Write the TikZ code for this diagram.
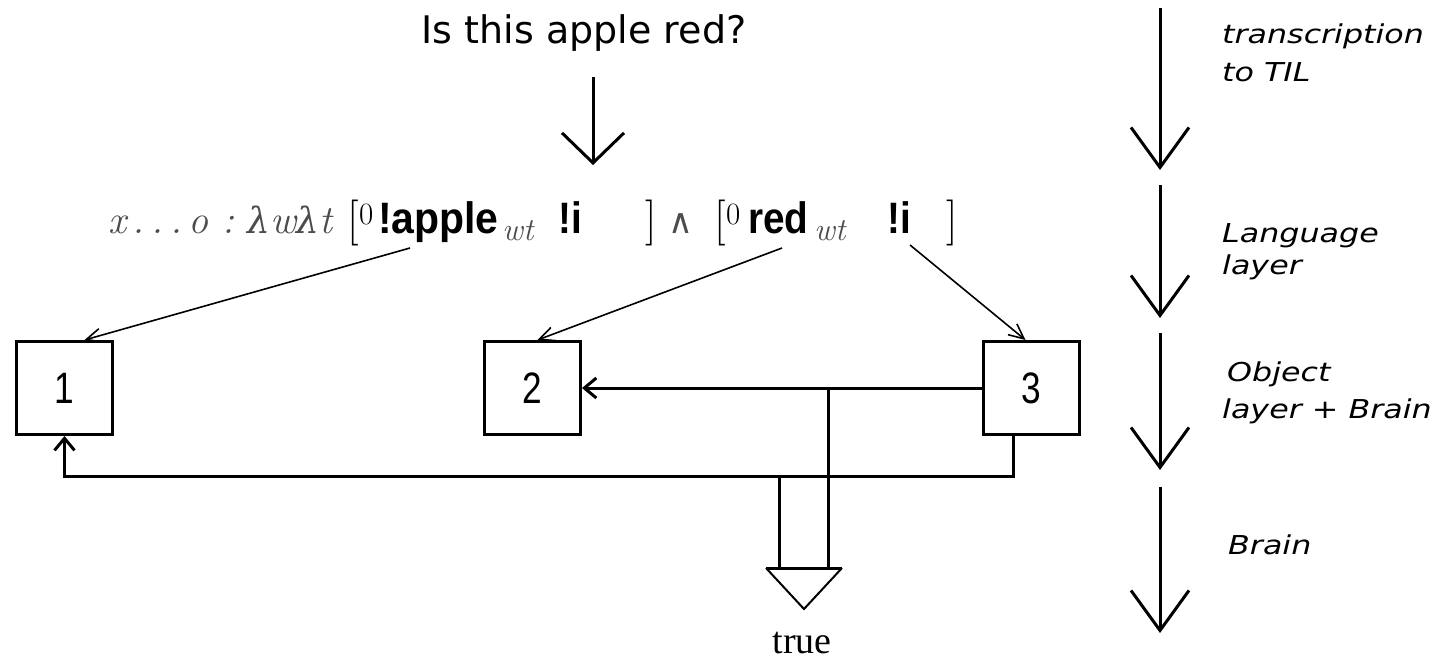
\documentclass[tikz,border=0pt]{standalone}
\usepackage{fontspec}
\usepackage{graphicx}
\usetikzlibrary{arrows.meta,calc}
\newfontfamily\qfont{DejaVu Sans}
\newfontfamily\lblfont{DejaVu Sans}
\newfontfamily\bsans{Liberation Sans}
\newfontfamily\numfont{Liberation Sans}
\newfontfamily\tfont{Liberation Serif}
\newfontfamily\grk{DejaVu Serif}
\colorlet{mathgray}{black!70}

\begin{document}
\begin{tikzpicture}[x=1pt,y=-1pt,
  box/.style={draw,line width=3pt,minimum width=96pt,minimum height=93pt,
    inner sep=0pt,font=\numfont\fontsize{44}{44}\selectfont},
  conn/.style={line width=3pt},
  smallhead/.style={-{Straight Barb[length=12pt,width=20pt]}},
  tlink/.style={line width=1.6pt,-{Straight Barb[length=15pt,width=14pt]}},
  stage/.style={line width=3pt,-{Straight Barb[length=40pt,width=58pt]}},
  lbl/.style={anchor=base west,inner sep=0pt,
    font=\lblfont\itshape\fontsize{26}{26}\selectfont},
  tx/.style={anchor=base west,inner sep=0pt},
  gm/.style={tx,text=mathgray,font=\fontsize{40}{40}\selectfont},
  brk/.style={tx,font=\fontsize{46}{46}\selectfont},
  zero/.style={tx,font=\fontsize{31}{31}\selectfont},
  bw/.style={tx,font=\bsans\bfseries\fontsize{44}{44}\selectfont},
  sub/.style={tx,text=mathgray,font=\itshape\fontsize{32}{32}\selectfont}]
\useasboundingbox (0,0) rectangle (1436,659);

% question and its arrow
\node[anchor=base,inner sep=0pt,font=\qfont\fontsize{38}{38}\selectfont] (q) at (584,43) {Is this apple red?};
\coordinate (qa) at (593,77);
\coordinate (qb) at (593,165);
\draw[line width=3pt,-{Straight Barb[length=30pt,width=62pt]}] (qa) -- (qb);

% TIL construction
\node[gm] (f0) at (108,233) {\itshape x\,.\,.\,.\,o\,\,:\,\,{\grk\itshape\fontsize{36}{36}\selectfont λ}w{\grk\itshape\fontsize{36}{36}\selectfont λ}t};
\node[brk] (f1) at (347,234) {[};
\node[zero] (f2) at (359,224) {0};
\node[bw] (f3) at (378,233) {\scalebox{0.93}[1]{!apple}};
\node[sub] (f4) at (502,240) {wt};
\node[bw] (f5) at (558,233) {\scalebox{0.88}[1]{!i}};
\node[brk] (f6) at (645,234) {]};
\node[gm] (f7) at (668,233) {\grk\fontsize{34}{34}\selectfont ∧};
\node[brk] (f8) at (714,234) {[};
\node[zero] (f9) at (726,224) {0};
\node[bw] (f10) at (748,233) {\scalebox{0.88}[1]{red}};
\node[sub] (f11) at (814,240) {wt};
\node[bw] (f12) at (887,233) {\scalebox{0.88}[1]{!i}};
\node[brk] (f13) at (946,234) {]};

% objects
\node[box] (b1) at (64.5,388) {\scalebox{0.8}[1]{1}};
\node[box] (b2) at (532.5,388) {\scalebox{0.8}[1]{2}};
\node[box] (b3) at (1031.5,388) {\scalebox{0.8}[1]{3}};

% links from the construction to the objects
\coordinate (s1) at (410,248);
\coordinate (s2) at (782,248);
\coordinate (s3) at (910,245);
\draw[tlink] (s1) -- ([xshift=20pt]b1.north);
\draw[tlink] (s2) -- ([xshift=5pt]b2.north);
\draw[tlink] (s3) -- ([xshift=-6pt]b3.north);

% brain wiring
\draw[conn,smallhead] (b3.west) -- (b2.east);
\draw[conn,smallhead] ([xshift=-18pt]b3.south) |- ([yshift=-40pt]b1.south) -- (b1.south);
\coordinate (j1) at (828,389);
\coordinate (j2) at (779,476);
\coordinate (t1) at (828,568);
\coordinate (t2) at (779,568);
\draw[conn] (j1) -- (t1);
\draw[conn] (j2) -- (t2);

% output triangle
\coordinate (tl) at (766,568);
\coordinate (tr) at (842,568);
\coordinate (tp) at (804,609);
\draw[line width=3pt] (tl) -- (tr);
\draw[line width=2pt] (tr) -- (tp) -- (tl);
\node[anchor=base,inner sep=0pt,font=\tfont\fontsize{38}{38}\selectfont] (res) at (802,653) {true};

% processing stages
\coordinate (r0) at (1160,8);
\coordinate (r1) at (1160,170);
\coordinate (r1b) at (1160,185);
\coordinate (r2) at (1160,318);
\coordinate (r2b) at (1160,333);
\coordinate (r3) at (1160,470);
\coordinate (r3b) at (1160,487);
\coordinate (r4) at (1160,633);
\draw[stage] (r0) -- (r1);
\draw[stage] (r1b) -- (r2);
\draw[stage] (r2b) -- (r3);
\draw[stage] (r3b) -- (r4);

\node[lbl] (l1) at (1222,43) {\scalebox{1.22}[1]{transcription}};
\node[lbl] (l2) at (1222,81) {\scalebox{1.22}[1]{to TIL}};
\node[lbl] (l3) at (1222,242) {\scalebox{1.22}[1]{Language}};
\node[lbl] (l4) at (1222,274) {\scalebox{1.22}[1]{layer}};
\node[lbl] (l5) at (1227,381) {\scalebox{1.22}[1]{Object}};
\node[lbl] (l6) at (1222,418) {\scalebox{1.22}[1]{layer + Brain}};
\node[lbl] (l7) at (1228,554) {\scalebox{1.22}[1]{Brain}};
\end{tikzpicture}
\end{document}
